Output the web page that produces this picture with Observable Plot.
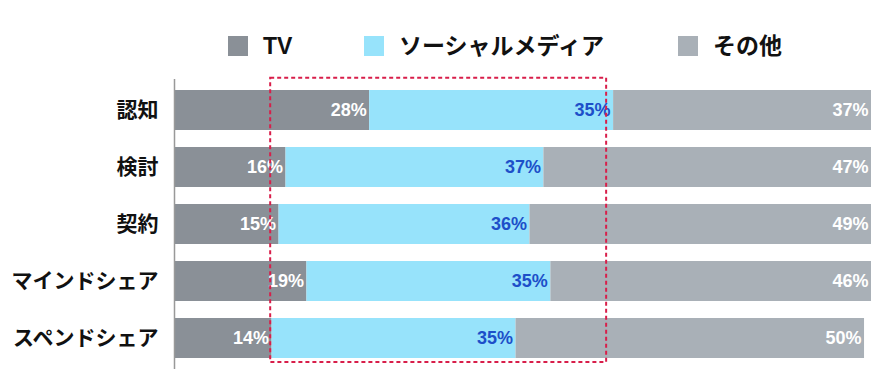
<!DOCTYPE html>
<html>
<head>
<meta charset="utf-8">
<script src="https://cdn.jsdelivr.net/npm/d3@7"></script>
<script src="https://cdn.jsdelivr.net/npm/@observablehq/plot@0.6"></script>
<style>
  html, body { margin: 0; padding: 0; background: #fff; }
  body { width: 894px; height: 387px; overflow: hidden;
         font-family: "Liberation Sans", Arial, "Noto Sans CJK JP", sans-serif; }
  #legend { position: relative; height: 60px; }
  .item { position: absolute; top: 36px; display: flex; align-items: center; height: 20px; }
  .sw { width: 20px; height: 20px; margin-right: 15px; }
  .lab { font-size: 23px; font-weight: bold; color: #111; line-height: 20px; white-space: nowrap; }
</style>
</head>
<body>
<div id="legend"></div>
<div id="chart"></div>
<script>
const categories = ["認知", "検討", "契約", "マインドシェア", "スペンドシェア"];
const seriesNames = ["TV", "ソーシャルメディア", "その他"];
const tvValues = [28, 16, 15, 19, 14];
const socialValues = [35, 37, 36, 35, 35];
const otherValues = [37, 47, 49, 46, 50];
const seriesColors = ["#8a9097", "#97e3fb", "#a9b0b7"];
const labelColors = ["#ffffff", "#1d4fc9", "#ffffff"];
const highlightRange = [{x1: 13.8, x2: 62.0}];

const valuesBySeries = [tvValues, socialValues, otherValues];
const data = [];
categories.forEach((c, i) => {
  let cum = 0;
  seriesNames.forEach((s, j) => {
    const v = valuesBySeries[j][i];
    cum += v;
    data.push({cat: c, series: s, value: v, end: cum, labelColor: labelColors[j]});
  });
});

// legend
const legend = document.getElementById("legend");
const legendLeft = [228, 364, 678];
seriesNames.forEach((s, j) => {
  const it = document.createElement("div");
  it.className = "item";
  it.style.left = legendLeft[j] + "px";
  it.innerHTML = `<div class="sw" style="background:${seriesColors[j]}"></div><div class="lab">${s}</div>`;
  legend.appendChild(it);
});

const font = '"Liberation Sans", Arial, "Noto Sans CJK JP", sans-serif';

const chart = Plot.plot({
  width: 894,
  height: 327,
  marginLeft: 174,
  marginRight: 23,
  marginTop: 19,
  marginBottom: 18,
  style: {fontFamily: font, background: "#fff"},
  x: {domain: [0, 100], axis: null},
  y: {domain: categories, paddingInner: 0.29, paddingOuter: 0.155, label: null},
  color: {domain: seriesNames, range: seriesColors},
  marks: [
    Plot.barX(data, {x: "value", y: "cat", fill: "series", z: "series"}),
    ...seriesNames.map((s, j) => Plot.text(data.filter(d => d.series === s), {
      x: "end", y: "cat",
      text: d => d.value + "%",
      textAnchor: "end", dx: -3, fill: labelColors[j],
      fontSize: 18, fontWeight: "bold"
    })),
    Plot.ruleX([0], {stroke: "#999", strokeWidth: 1.5}),
    Plot.rect(highlightRange, {
      x1: "x1", x2: "x2", fill: "none", stroke: "#d81e4a",
      strokeWidth: 2, strokeDasharray: "4,3", insetTop: -1.3, insetBottom: 7
    }),
    Plot.axisY({tickSize: 0, tickPadding: 16, fontSize: 21, fontWeight: "bold", fill: "#111", label: null})
  ]
});
document.getElementById("chart").appendChild(chart);
</script>
</body>
</html>
